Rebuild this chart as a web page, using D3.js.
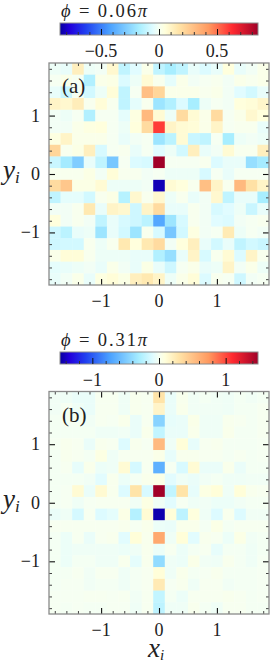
<!DOCTYPE html>
<html lang="en">
<head>
<meta charset="UTF-8">
<title>Phi maps</title>
<script src="https://d3js.org/d3.v7.min.js"></script>
<style>
  html, body { margin:0; padding:0; background:#fff; overflow:hidden; }
  svg { display:block; position:absolute; left:0; top:0; }
  text { font-family:"Liberation Serif", serif; fill:#222; }
  .domain { display:none; }
</style>
</head>
<body>
<svg width="270" height="663"></svg>
<script>
// grid centres, rows run from top (y = 1.8) to bottom (y = -1.8)
var gridX = [-1.8,-1.6,-1.4,-1.2,-1,-0.8,-0.6,-0.4,-0.2,0,0.2,0.4,0.6,0.8,1,1.2,1.4,1.6,1.8];
var gridY = [1.8,1.6,1.4,1.2,1,0.8,0.6,0.4,0.2,0,-0.2,-0.4,-0.6,-0.8,-1,-1.2,-1.4,-1.6,-1.8];

var valuesA = [
 [-.02,-.03,.12,-.02,-.01,.08,-.12,-.05,.02,-.12,-.17,-.12,-.03,-.06,-.03,.05,-.03,-.01,.02],
 [0,.02,0,-.15,.02,.03,-.06,-.02,.07,.01,-.04,.02,-.01,0,.01,-.01,.02,.01,.02],
 [-.03,-.1,0,-.08,-.02,.06,-.12,0,.3,.22,.02,.02,.02,.01,.02,-.01,-.05,-.08,-.03],
 [.1,.08,.13,.01,.06,.01,-.12,-.04,.01,-.2,-.15,-.06,-.17,-.02,0,-.01,.05,.06,.09],
 [-.01,-.02,0,-.15,0,0,-.04,.04,.32,.07,-.02,.2,.07,.02,.2,0,.02,.08,.05],
 [-.01,-.01,.02,.04,.05,0,-.02,.05,.2,.6,.1,.07,.06,.02,.1,0,.01,.01,-.03],
 [.04,.1,.02,.02,.02,0,-.03,-.01,0,-.2,-.13,.07,-.1,-.12,0,-.17,-.02,-.01,-.02],
 [.22,.01,.03,.12,-.07,0,.01,-.03,0,-.05,-.02,-.08,.12,-.03,-.01,.07,.01,.01,.12],
 [-.1,-.18,-.28,-.03,-.12,-.3,0,-.06,-.07,.85,0,0,0,.01,-.06,-.03,-.03,-.22,-.18],
 [.01,.01,.01,.03,-.01,.06,.01,.01,-.01,0,-.02,-.02,-.02,-.07,0,-.03,0,0,0],
 [.2,.27,.03,.03,.07,-.02,-.02,-.02,-.01,-.82,.07,.05,.01,.3,.1,.01,.32,.18,.1],
 [-.12,-.04,-.04,-.08,.01,.03,-.14,.08,.01,.08,-.02,.01,-.03,-.01,.08,-.12,-.03,-.03,-.17],
 [-.01,-.01,.01,.15,-.03,.1,.08,-.09,.1,.2,-.03,-.03,.01,-.01,-.07,-.05,-.02,-.1,-.03],
 [.05,-.01,.01,-.01,-.12,-.03,-.07,-.09,-.13,-.4,-.2,-.07,.01,-.01,-.05,-.06,-.01,0,.01],
 [-.09,-.13,-.03,-.02,-.2,-.03,-.08,-.2,.01,-.07,-.3,-.08,.04,-.01,0,.14,-.02,0,-.01],
 [-.09,-.08,-.08,.01,-.02,.01,.15,.05,.15,.2,-.01,.05,.12,-.03,-.08,-.03,-.12,-.08,-.1],
 [.02,.06,.06,.01,-.02,-.02,-.02,-.03,-.03,-.15,-.22,-.03,.1,-.07,.01,.07,-.06,.1,.01],
 [-.04,-.03,-.02,-.01,-.03,.02,-.01,-.03,.03,-.03,-.09,0,.02,-.03,-.02,.1,-.01,.02,-.02],
 [-.03,-.01,.02,-.03,.04,.06,.03,.12,.15,.1,-.02,.02,.06,-.06,.01,0,-.09,-.01,0]
];

var valuesB = [
 [-.02,-.03,-.05,-.05,.01,.01,-.03,.02,.01,.3,-.05,.02,-.02,-.01,-.02,-.03,-.01,-.02,-.01],
 [-.02,0,-.03,-.05,.01,.01,-.03,.02,.01,.17,-.05,.03,-.02,-.02,-.02,-.03,-.01,-.01,.01],
 [-.01,0,0,-.02,.01,0,.03,-.05,.01,-.45,-.06,-.05,.04,-.03,-.03,.02,.01,-.01,.01],
 [-.01,-.01,-.01,-.01,-.03,-.03,-.02,-.05,.03,-.2,-.05,-.05,.03,-.03,-.03,.03,-.01,-.01,.01],
 [0,.02,.01,-.05,.02,.01,-.1,.02,0,.55,-.03,.1,-.06,.01,.02,-.01,-.01,-.01,0],
 [-.01,.02,.01,-.01,.06,-.03,.01,.01,.01,.04,-.06,.02,.02,.01,.01,-.01,.01,-.01,0],
 [-.01,.01,-.06,.03,-.04,-.03,.12,-.13,.01,-.65,0,-.12,.12,-.05,-.05,.03,-.05,-.01,-.01],
 [-.01,-.01,-.01,-.02,-.08,.02,-.04,-.01,.03,.05,-.08,-.03,-.05,-.02,-.01,-.03,-.03,-.02,-.02],
 [-.01,0,.12,-.05,.13,.02,-.1,.3,-.12,1.48,-.2,.3,-.06,.06,.1,-.03,.1,.02,.01],
 [-.01,0,-.03,0,.01,.01,.01,-.02,.06,-.03,-.08,0,-.03,-.02,-.04,-.04,-.02,-.01,-.01],
 [-.05,-.03,-.13,.01,-.1,-.07,.05,-.25,.12,-1.45,.1,-.22,.08,-.03,-.1,.02,-.1,-.02,-.02],
 [.01,.01,.01,.01,.01,.01,.02,0,.03,-.04,-.05,.03,.03,-.01,.05,-.01,.01,.01,.01],
 [-.01,-.04,.01,-.05,.01,.02,-.08,.1,.02,.65,-.03,.1,-.08,.02,.01,-.04,.05,-.02,-.01],
 [-.01,-.04,-.03,-.03,-.03,-.03,-.04,-.03,.02,-.04,.01,-.04,-.01,.01,-.06,-.01,-.01,-.03,-.01],
 [-.01,-.04,-.01,-.01,-.03,-.03,.02,-.07,.02,-.4,-.03,-.04,.04,-.02,-.03,.02,-.01,-.03,0],
 [-.01,-.01,.01,-.02,.01,.01,-.03,-.01,.01,.1,-.03,.03,-.01,0,.02,-.01,-.01,-.01,0],
 [-.01,0,0,-.02,-.01,-.01,-.03,-.01,.01,.25,0,.02,-.03,.01,.01,-.02,-.01,-.01,0],
 [0,0,0,.01,.01,0,.01,-.02,.01,-.2,-.01,-.04,.01,.01,.01,.02,.01,-.01,0],
 [0,-.01,0,-.01,-.01,0,0,-.03,.01,-.22,-.03,-.03,.02,-.01,-.03,.01,.01,-.01,-.01]
];

var axisMajor = [-1, 0, 1];
var axisMinor = [-1.8,-1.6,-1.4,-1.2,-0.8,-0.6,-0.4,-0.2,0.2,0.4,0.6,0.8,1.2,1.4,1.6,1.8];

var barTicksA = [-0.5, 0, 0.5];
var barMinorA = [-0.8,-0.7,-0.6,-0.4,-0.3,-0.2,-0.1,0.1,0.2,0.3,0.4,0.6,0.7,0.8];
var barTicksB = [-1, 0, 1];
var barMinorB = [-1.4,-1.2,-0.8,-0.6,-0.4,-0.2,0.2,0.4,0.6,0.8,1.2,1.4];

var cmapStops = [0, 0.05, 0.13, 0.25, 0.4, 0.47, 0.5, 0.53, 0.6, 0.75, 0.87, 1];
var cmapColors = ["#0800a0","#2200dc","#2040f0","#4aa0ff","#a8eeff","#e0fcff","#f6fff2","#ffffdc","#ffe4a8","#ff9a60","#ff2a30","#a00028"];

var svg = d3.select("svg");
var left = 49, right = 269, barLeft = 60, barRight = 258;
var cmapScale = d3.scaleLinear().domain(cmapStops).range(cmapColors).clamp(true);

var defs = svg.append("defs");
var grad = defs.append("linearGradient").attr("id", "cmap");
cmapStops.forEach(function(s, i) {
    grad.append("stop").attr("offset", s).attr("stop-color", cmapColors[i]);
});

function fmt(d) { return d === 0 ? "0" : d3.format("")(d); }

function drawPanel(p) {
    var g = svg.append("g");
    var x = d3.scaleLinear().domain([-1.9, 1.9]).range([left, right]);
    var y = d3.scaleLinear().domain([-1.9, 1.9]).range([p.bottom, p.top]);
    var norm = d3.scaleLinear().domain([-p.vmax, p.vmax]).range([0, 1]);

    // cells
    p.values.forEach(function(row, r) {
        g.append("g").selectAll("rect")
            .data(row)
            .enter().append("rect")
            .attr("x", function(d, c) { return x(gridX[c] - 0.1); })
            .attr("y", y(gridY[r] + 0.1))
            .attr("width", x(0.1) - x(-0.1) + 0.3)
            .attr("height", y(-0.1) - y(0.1) + 0.3)
            .attr("fill", function(d) { return cmapScale(norm(d)); });
    });

    // ticks on all four sides, pointing in
    function ticks(gen, tx, vals, len, w, col) {
        var a = g.append("g").attr("transform", tx)
            .call(gen.tickValues(vals).tickSizeInner(-len).tickSizeOuter(0).tickFormat(""));
        a.selectAll("line").attr("stroke", col).attr("stroke-width", w);
    }
    [[function() { return d3.axisBottom(x); }, "translate(0," + p.bottom + ")"],
     [function() { return d3.axisTop(x); }, "translate(0," + p.top + ")"],
     [function() { return d3.axisLeft(y); }, "translate(" + left + ",0)"],
     [function() { return d3.axisRight(y); }, "translate(" + right + ",0)"]].forEach(function(s) {
        ticks(s[0](), s[1], axisMinor, 3, 1, "#444");
        ticks(s[0](), s[1], axisMajor, 6, 1.1, "#111");
    });

    g.append("rect")
        .attr("x", left).attr("y", p.top)
        .attr("width", right - left).attr("height", p.bottom - p.top)
        .attr("fill", "none").attr("stroke", "#8a8a8a").attr("stroke-width", 1.3);

    // tick labels
    axisMajor.forEach(function(v) {
        g.append("text").attr("x", x(v)).attr("y", p.bottom + 22)
            .attr("text-anchor", "middle").attr("font-size", 18).text(fmt(v));
        g.append("text").attr("x", 40).attr("y", y(v) + 6)
            .attr("text-anchor", "end").attr("font-size", 18).text(fmt(v));
    });

    // colorbar
    var bar = d3.scaleLinear().domain([-p.vmax, p.vmax]).range([barLeft, barRight]);
    g.append("rect")
        .attr("x", barLeft).attr("y", p.barTop)
        .attr("width", barRight - barLeft).attr("height", 12)
        .attr("fill", "url(#cmap)").attr("stroke", "#8a8a8a").attr("stroke-width", 1);
    var cb = g.append("g").attr("transform", "translate(0," + (p.barTop + 12) + ")");
    var minor = cb.append("g").call(d3.axisBottom(bar).tickValues(p.barMinor).tickSizeInner(-3).tickSizeOuter(0).tickFormat(""));
    minor.selectAll("line").attr("stroke", "#333");
    var major = cb.append("g").call(d3.axisBottom(bar).tickValues(p.barTicks).tickSizeInner(-6).tickSizeOuter(0).tickFormat(""));
    major.selectAll("line").attr("stroke", "#111");
    p.barTicks.forEach(function(v) {
        g.append("text").attr("x", bar(v)).attr("y", p.barTop + 34)
            .attr("text-anchor", "middle").attr("font-size", 18).text(fmt(v));
    });

    // title
    var t = g.append("text").attr("x", 61).attr("y", p.barTop - 6.5).attr("font-size", 18.5).attr("letter-spacing", 1.9);
    t.append("tspan").attr("font-style", "italic").text("\u03d5");
    t.append("tspan").text(" = " + p.phi);
    t.append("tspan").attr("font-style", "italic").text("\u03c0");

    // panel letter
    g.append("text").attr("x", 62).attr("y", p.top + 30).attr("font-size", 21).text(p.letter);

    // y label
    var yl = g.append("text").attr("x", 3).attr("y", y(0) + 5).attr("font-size", 27).attr("font-style", "italic");
    yl.append("tspan").text("y");
    yl.append("tspan").attr("font-size", 17).attr("dy", 4).text("i");

    if (p.xlabel) {
        var xl = g.append("text").attr("x", 148).attr("y", 656.5).attr("font-size", 27).attr("font-style", "italic");
        xl.append("tspan").text("x");
        xl.append("tspan").attr("font-size", 15).attr("dy", 3).text("i");
    }
}

drawPanel({values: valuesA, vmax: 0.853, top: 63, bottom: 285, barTop: 23, phi: "0.06", letter: "(a)", barTicks: barTicksA, barMinor: barMinorA, xlabel: false});
drawPanel({values: valuesB, vmax: 1.485, top: 391.5, bottom: 614, barTop: 352, phi: "0.31", letter: "(b)", barTicks: barTicksB, barMinor: barMinorB, xlabel: true});
</script>
</body>
</html>
